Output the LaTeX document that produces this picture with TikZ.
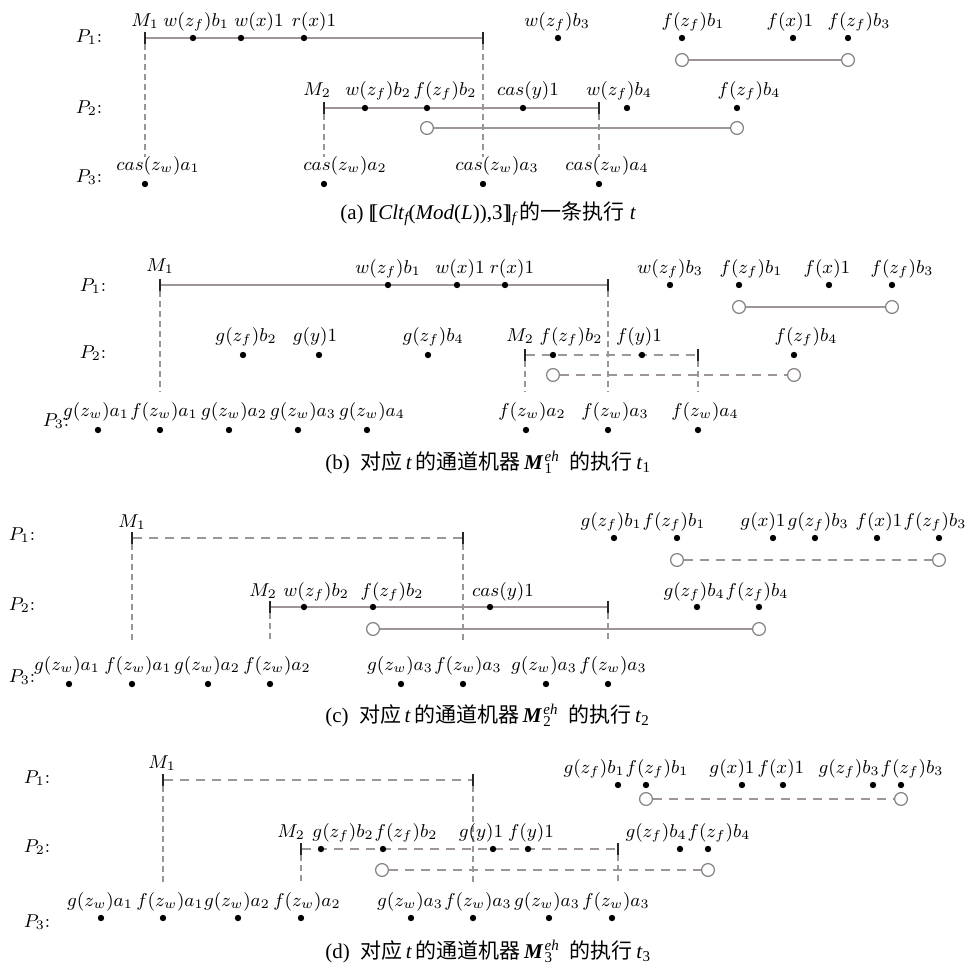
\RequirePackage{fix-cm}
\documentclass[tikz,border=0pt]{standalone}
\usepackage{fontspec}
\newfontfamily\capfont{Liberation Serif}
\newfontfamily\cjk{Noto Sans CJK SC}
\usetikzlibrary{backgrounds}

\definecolor{tlgray}{RGB}{158,150,150}
\definecolor{vgray}{RGB}{150,150,150}
\definecolor{ckgray}{RGB}{135,130,130}

% small raised/lowered indices for caption text
\newcommand\capsub[1]{\raisebox{-0.4ex}{\fontsize{7.5}{8}\selectfont #1}}
\newcommand\ehmark[1]{{\fontsize{7.5}{8}\selectfont\kern0.6pt\rlap{\raisebox{1.05ex}{\itshape eh}}\raisebox{-0.6ex}{#1}\phantom{\itshape eh}}}
\newcommand\dbl[1]{#1\kern-.22em#1}

% event label: name, x, baseline y, math text
\newcommand\lbl[4]{\node[lab] (#1) at (#2,#3) {$#4$};}
% event dot: name, x, y
\newcommand\evt[3]{\node[evdot] (#1) at (#2,#3) {};}

\begin{document}
\begin{tikzpicture}[x=0.5pt,y=-0.5pt,
  lab/.style={anchor=base, inner sep=0pt, font=\fontsize{9.3}{11}\selectfont},
  plab/.style={anchor=base, inner sep=0pt, font=\fontsize{9.3}{11}\selectfont},
  captext/.style={anchor=base west, inner sep=0pt, font=\capfont\fontsize{10.5}{12}\selectfont},
  evdot/.style={circle, fill=black, inner sep=0pt, minimum size=3.2pt},
  ring/.style={circle, draw=ckgray, fill=white, line width=0.6pt, inner sep=0pt, minimum size=6.4pt},
  tickbar/.style={rectangle, fill=black!85, inner sep=0pt, minimum width=0.8pt, minimum height=6pt},
  tl/.style={draw=tlgray, line width=0.75pt},
  tld/.style={draw=tlgray, line width=0.75pt, dash pattern=on 4.5pt off 3.5pt},
  vd/.style={draw=vgray, line width=0.6pt, dash pattern=on 3pt off 2pt}]
\useasboundingbox (0,0) rectangle (971,970);

%% ---------------- (a) ----------------
\node[plab] (aP1) at (89,42) {$P_1$:};
\node[plab] (aP2) at (89,113) {$P_2$:};
\node[plab] (aP3) at (89,182) {$P_3$:};
\node[tickbar] (aT1s) at (145,38) {};
\node[tickbar] (aT1e) at (483,38) {};
\node[tickbar] (aT2s) at (324,108) {};
\node[tickbar] (aT2e) at (599,108) {};
\evt{aD11}{193}{38} \evt{aD12}{241}{38} \evt{aD13}{304}{38} \evt{aD14}{558}{38}
\evt{aD15}{682}{38} \evt{aD16}{793}{38} \evt{aD17}{848}{38}
\node[ring] (aC1a) at (682,60) {};
\node[ring] (aC1b) at (848,60) {};
\evt{aD21}{365}{108} \evt{aD22}{427}{108} \evt{aD23}{523}{108} \evt{aD24}{627}{108} \evt{aD25}{737}{108}
\node[ring] (aC2a) at (427,128) {};
\node[ring] (aC2b) at (737,128) {};
\evt{aD31}{145}{184} \evt{aD32}{324}{184} \evt{aD33}{483}{184} \evt{aD34}{599}{184}
\lbl{aM1}{145}{26}{M_1} \lbl{aL11}{196}{26}{w(z_f)b_1} \lbl{aL12}{259}{26}{w(x)1}
\lbl{aL13}{314}{26}{r(x)1} \lbl{aL14}{557}{26}{w(z_f)b_3} \lbl{aL15}{693}{26}{f(z_f)b_1}
\lbl{aL16}{790}{26}{f(x)1} \lbl{aL17}{859}{26}{f(z_f)b_3}
\lbl{aM2}{317}{95}{M_2} \lbl{aL21}{378}{95}{w(z_f)b_2} \lbl{aL22}{445}{95}{f(z_f)b_2}
\lbl{aL23}{528}{95}{cas(y)1} \lbl{aL24}{619}{95}{w(z_f)b_4} \lbl{aL25}{749}{95}{f(z_f)b_4}
\lbl{aL31}{158}{170}{cas(z_w)a_1} \lbl{aL32}{345}{170}{cas(z_w)a_2}
\lbl{aL33}{497}{170}{cas(z_w)a_3} \lbl{aL34}{607}{170}{cas(z_w)a_4}
\coordinate (aV1) at (145,157); \coordinate (aV2) at (324,157);
\coordinate (aV3) at (483,157); \coordinate (aV4) at (599,157);
\begin{scope}[on background layer]
  \draw[tl] (aT1s) -- (aT1e);
  \draw[tl] (aT2s) -- (aT2e);
  \draw[tl] (aC1a) -- (aC1b);
  \draw[tl] (aC2a) -- (aC2b);
  \draw[vd] (aT1s) -- (aV1);
  \draw[vd] (aT2s) -- (aV2);
  \draw[vd] (aT1e) -- (aV3);
  \draw[vd] (aT2e) -- (aV4);
\end{scope}
\node[captext] (capA) at (340,219) {(a) \dbl{[}\textit{Clt}\capsub{\itshape f}(\textit{Mod}(\textit{L})),3\dbl{]}\capsub{\itshape f}\,{\cjk 的一条执行} \textit{t}};

%% ---------------- (b) ----------------
\node[plab] (bP1) at (93,291) {$P_1$:};
\node[plab] (bP2) at (93,358) {$P_2$:};
\node[plab] (bP3) at (56,426) {$P_3$:};
\node[tickbar] (bT1s) at (160,285) {};
\node[tickbar] (bT1e) at (608,285) {};
\node[tickbar] (bT2s) at (525,355) {};
\node[tickbar] (bT2e) at (698,355) {};
\evt{bD11}{388}{285} \evt{bD12}{457}{285} \evt{bD13}{505}{285} \evt{bD14}{670}{285}
\evt{bD15}{739}{285} \evt{bD16}{829}{285} \evt{bD17}{892}{285}
\node[ring] (bC1a) at (739,307) {};
\node[ring] (bC1b) at (892,307) {};
\evt{bD21}{243}{355} \evt{bD22}{319}{355} \evt{bD23}{428}{355} \evt{bD24}{553}{355}
\evt{bD25}{642}{355} \evt{bD26}{794}{355}
\node[ring] (bC2a) at (553,375) {};
\node[ring] (bC2b) at (794,375) {};
\evt{bD31}{98}{430} \evt{bD32}{160}{430} \evt{bD33}{229}{430} \evt{bD34}{298}{430}
\evt{bD35}{367}{430} \evt{bD36}{526}{430} \evt{bD37}{608}{430} \evt{bD38}{698}{430}
\lbl{bM1}{160}{271}{M_1} \lbl{bL11}{388}{273}{w(z_f)b_1} \lbl{bL12}{460}{273}{w(x)1}
\lbl{bL13}{512}{273}{r(x)1} \lbl{bL14}{670}{273}{w(z_f)b_3} \lbl{bL15}{751}{273}{f(z_f)b_1}
\lbl{bL16}{827}{273}{f(x)1} \lbl{bL17}{902}{273}{f(z_f)b_3}
\lbl{bL21}{246}{341}{g(z_f)b_2} \lbl{bL22}{315}{341}{g(y)1} \lbl{bL23}{433}{341}{g(z_f)b_4}
\lbl{bM2}{520}{341}{M_2} \lbl{bL24}{571}{341}{f(z_f)b_2} \lbl{bL25}{639}{341}{f(y)1}
\lbl{bL26}{806}{341}{f(z_f)b_4}
\lbl{bL31}{96}{416}{g(z_w)a_1} \lbl{bL32}{164}{416}{f(z_w)a_1} \lbl{bL33}{234}{416}{g(z_w)a_2}
\lbl{bL34}{303}{416}{g(z_w)a_3} \lbl{bL35}{372}{416}{g(z_w)a_4} \lbl{bL36}{532}{416}{f(z_w)a_2}
\lbl{bL37}{615}{416}{f(z_w)a_3} \lbl{bL38}{705}{416}{f(z_w)a_4}
\coordinate (bV1) at (160,392); \coordinate (bV2) at (608,392);
\coordinate (bV3) at (525,392); \coordinate (bV4) at (698,392);
\begin{scope}[on background layer]
  \draw[tl] (bT1s) -- (bT1e);
  \draw[tl] (bC1a) -- (bC1b);
  \draw[tld] (bT2s) -- (bT2e);
  \draw[tld] (bC2a) -- (bC2b);
  \draw[vd] (bT1s) -- (bV1);
  \draw[vd] (bT1e) -- (bV2);
  \draw[vd] (bT2s) -- (bV3);
  \draw[vd] (bT2e) -- (bV4);
\end{scope}
\node[captext] (capB) at (325,469) {(b)\enspace{\cjk 对应}\,\textit{t}\,{\cjk 的通道机器}\,\textbf{\textit{M}}\ehmark{1}\,{\cjk 的执行}\,\textit{t}\capsub{1}};

%% ---------------- (c) ----------------
\node[plab] (cP1) at (22,540) {$P_1$:};
\node[plab] (cP2) at (22,610) {$P_2$:};
\node[plab] (cP3) at (22,682) {$P_3$:};
\node[tickbar] (cT1s) at (132,538) {};
\node[tickbar] (cT1e) at (463,538) {};
\node[tickbar] (cT2s) at (270,607) {};
\node[tickbar] (cT2e) at (608,607) {};
\evt{cD11}{614}{538} \evt{cD12}{677}{538} \evt{cD13}{773}{538} \evt{cD14}{815}{538}
\evt{cD15}{877}{538} \evt{cD16}{939}{538}
\node[ring] (cC1a) at (677,560) {};
\node[ring] (cC1b) at (939,560) {};
\evt{cD21}{304}{607} \evt{cD22}{373}{607} \evt{cD23}{490}{607} \evt{cD24}{697}{607} \evt{cD25}{759}{607}
\node[ring] (cC2a) at (373,629) {};
\node[ring] (cC2b) at (759,629) {};
\evt{cD31}{69}{684} \evt{cD32}{132}{684} \evt{cD33}{208}{684} \evt{cD34}{270}{684}
\evt{cD35}{401}{684} \evt{cD36}{463}{684} \evt{cD37}{546}{684} \evt{cD38}{608}{684}
\lbl{cM1}{132}{527}{M_1} \lbl{cL11}{611}{526}{g(z_f)b_1} \lbl{cL12}{674}{526}{f(z_f)b_1}
\lbl{cL13}{763}{526}{g(x)1} \lbl{cL14}{818}{526}{g(z_f)b_3} \lbl{cL15}{879}{526}{f(x)1}
\lbl{cL16}{935}{526}{f(z_f)b_3}
\lbl{cM2}{263}{596}{M_2} \lbl{cL21}{316}{596}{w(z_f)b_2} \lbl{cL22}{392}{596}{f(z_f)b_2}
\lbl{cL23}{503}{596}{cas(y)1} \lbl{cL24}{694}{596}{g(z_f)b_4} \lbl{cL25}{757}{596}{f(z_f)b_4}
\lbl{cL31}{67}{670}{g(z_w)a_1} \lbl{cL32}{138}{670}{f(z_w)a_1} \lbl{cL33}{207}{670}{g(z_w)a_2}
\lbl{cL34}{277}{670}{f(z_w)a_2} \lbl{cL35}{400}{670}{g(z_w)a_3} \lbl{cL36}{468}{670}{f(z_w)a_3}
\lbl{cL37}{544}{670}{g(z_w)a_3} \lbl{cL38}{613}{670}{f(z_w)a_3}
\coordinate (cV1) at (132,643); \coordinate (cV2) at (463,643);
\coordinate (cV3) at (270,643); \coordinate (cV4) at (608,643);
\begin{scope}[on background layer]
  \draw[tld] (cT1s) -- (cT1e);
  \draw[tld] (cC1a) -- (cC1b);
  \draw[tl] (cT2s) -- (cT2e);
  \draw[tl] (cC2a) -- (cC2b);
  \draw[vd] (cT1s) -- (cV1);
  \draw[vd] (cT1e) -- (cV2);
  \draw[vd] (cT2s) -- (cV3);
  \draw[vd] (cT2e) -- (cV4);
\end{scope}
\node[captext] (capC) at (325,722) {(c)\enspace{\cjk 对应}\,\textit{t}\,{\cjk 的通道机器}\,\textbf{\textit{M}}\ehmark{2}\,{\cjk 的执行}\,\textit{t}\capsub{2}};

%% ---------------- (d) ----------------
\node[plab] (dP1) at (37,783) {$P_1$:};
\node[plab] (dP2) at (37,852) {$P_2$:};
\node[plab] (dP3) at (37,927) {$P_3$:};
\node[tickbar] (dT1s) at (163,780) {};
\node[tickbar] (dT1e) at (473,780) {};
\node[tickbar] (dT2s) at (301,849) {};
\node[tickbar] (dT2e) at (618,849) {};
\evt{dD11}{618}{785} \evt{dD12}{646}{785} \evt{dD13}{742}{785} \evt{dD14}{783}{785}
\evt{dD15}{873}{785} \evt{dD16}{901}{785}
\node[ring] (dC1a) at (646,799) {};
\node[ring] (dC1b) at (901,799) {};
\evt{dD21}{321}{849} \evt{dD22}{383}{849} \evt{dD23}{493}{849} \evt{dD24}{528}{849}
\evt{dD25}{680}{849} \evt{dD26}{708}{849}
\node[ring] (dC2a) at (382,870) {};
\node[ring] (dC2b) at (708,870) {};
\evt{dD31}{101}{918} \evt{dD32}{163}{918} \evt{dD33}{238}{918} \evt{dD34}{301}{918}
\evt{dD35}{411}{918} \evt{dD36}{473}{918} \evt{dD37}{549}{918} \evt{dD38}{612}{918}
\lbl{dM1}{162}{768}{M_1} \lbl{dL11}{594}{773}{g(z_f)b_1} \lbl{dL12}{657}{773}{f(z_f)b_1}
\lbl{dL13}{732}{773}{g(x)1} \lbl{dL14}{781}{773}{f(x)1} \lbl{dL15}{849}{773}{g(z_f)b_3}
\lbl{dL16}{912}{773}{f(z_f)b_3}
\lbl{dM2}{291}{837}{M_2} \lbl{dL21}{343}{837}{g(z_f)b_2} \lbl{dL22}{406}{837}{f(z_f)b_2}
\lbl{dL23}{481}{837}{g(y)1} \lbl{dL24}{531}{837}{f(y)1} \lbl{dL25}{656}{837}{g(z_f)b_4}
\lbl{dL26}{719}{837}{f(z_f)b_4}
\lbl{dL31}{100}{906}{g(z_w)a_1} \lbl{dL32}{170}{906}{f(z_w)a_1} \lbl{dL33}{237}{906}{g(z_w)a_2}
\lbl{dL34}{307}{906}{f(z_w)a_2} \lbl{dL35}{410}{906}{g(z_w)a_3} \lbl{dL36}{478}{906}{f(z_w)a_3}
\lbl{dL37}{547}{906}{g(z_w)a_3} \lbl{dL38}{616}{906}{f(z_w)a_3}
\coordinate (dV1) at (163,883); \coordinate (dV2) at (473,883);
\coordinate (dV3) at (301,883); \coordinate (dV4) at (618,883);
\begin{scope}[on background layer]
  \draw[tld] (dT1s) -- (dT1e);
  \draw[tld] (dC1a) -- (dC1b);
  \draw[tld] (dT2s) -- (dT2e);
  \draw[tld] (dC2a) -- (dC2b);
  \draw[vd] (dT1s) -- (dV1);
  \draw[vd] (dT1e) -- (dV2);
  \draw[vd] (dT2s) -- (dV3);
  \draw[vd] (dT2e) -- (dV4);
\end{scope}
\node[captext] (capD) at (325,958) {(d)\enspace{\cjk 对应}\,\textit{t}\,{\cjk 的通道机器}\,\textbf{\textit{M}}\ehmark{3}\,{\cjk 的执行}\,\textit{t}\capsub{3}};
\end{tikzpicture}
\end{document}
